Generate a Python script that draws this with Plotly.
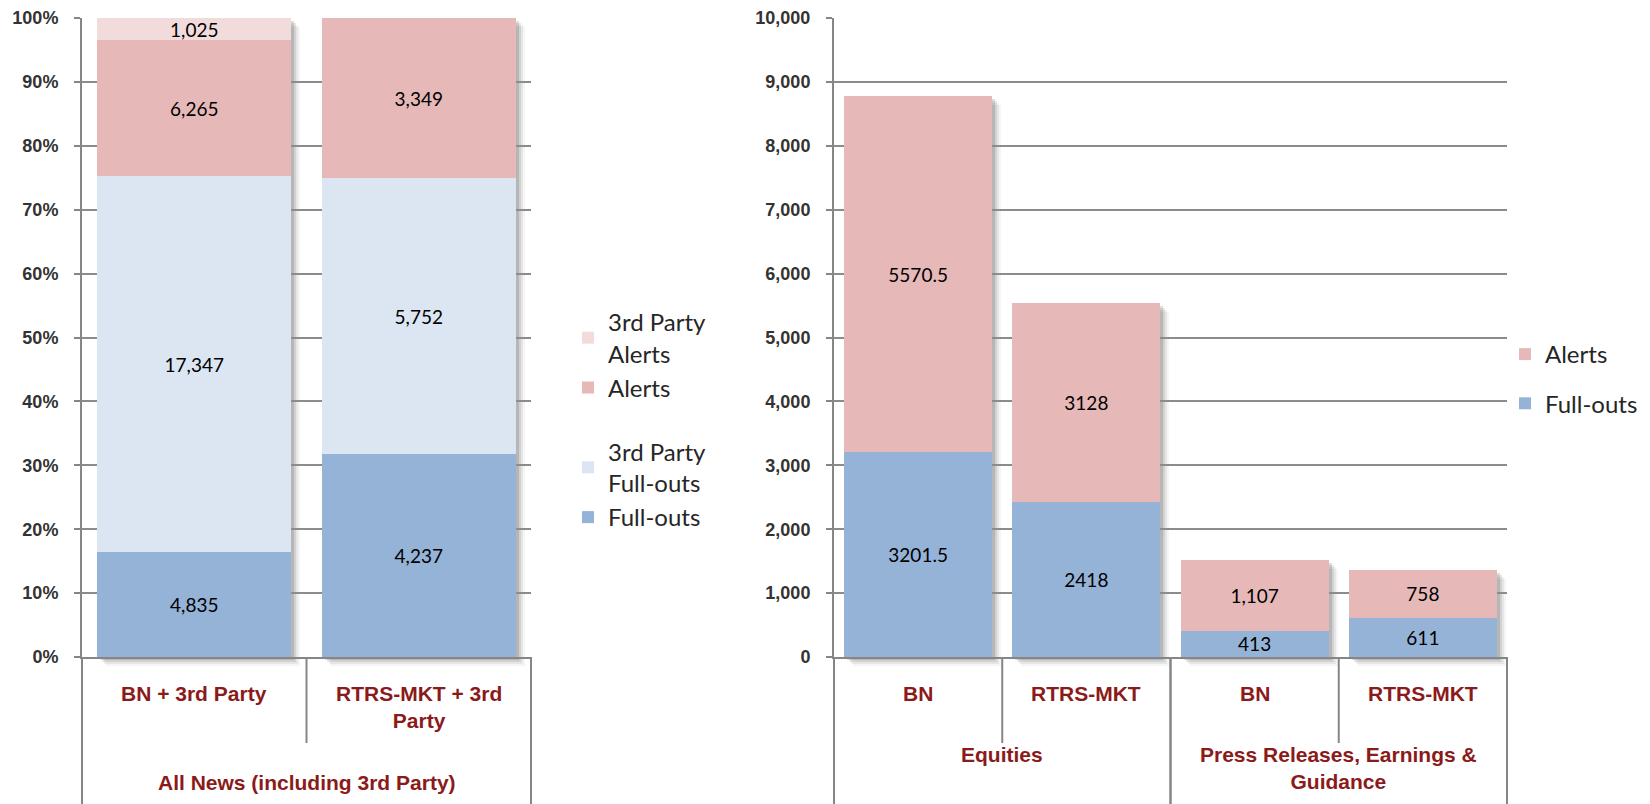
import plotly.graph_objects as go

# ---------------- data: left chart (100% stacked) ----------------
left_group = "All News (including 3rd Party)"
left_cats = ["BN + 3rd Party", "RTRS-MKT + 3rd<br>Party"]
left_full_outs = [4835, 4237]
left_3p_full_outs = [17347, 5752]
left_alerts = [6265, 3349]
left_3p_alerts = [1025, 0]
left_ticks = list(range(0, 101, 10))

# ---------------- data: right chart (stacked counts) ----------------
right_groups = ["Equities", "Equities",
                "Press Releases, Earnings &<br>Guidance", "Press Releases, Earnings &<br>Guidance"]
right_cats = ["BN", "RTRS-MKT", "BN", "RTRS-MKT"]
right_full_outs = [3201.5, 2418, 413, 611]
right_alerts = [5570.5, 3128, 1107, 758]
right_full_outs_labels = ["3201.5", "2418", "413", "611"]
right_alerts_labels = ["5570.5", "3128", "1,107", "758"]
right_ticks = list(range(0, 10001, 1000))

# ---------------- styles ----------------
C_FULL = "#95B3D7"
C_3P_FULL = "#DCE6F2"
C_ALERT = "#E6B9B8"
C_3P_ALERT = "#F2DCDB"
AXIS = "#868686"
GRID = "#8C8C8C"
CAT_COLOR = "#8B1A1A"
W, H = 1650, 804

def px_x(p):
    return p / W

def px_y(p):
    return 1 - p / H

# plot-area pixel boxes (left, right, top, bottom)
L_BOX = (82, 531, 18, 657)
R_BOX = (834, 1507, 18, 657)
LEFT_W, RIGHT_W = 0.865, 0.88
SHADOWS = [(3, 0.13), (5, 0.09), (7, 0.06), (9, 0.04)]  # (pixel offset, opacity)

label_font = dict(family="Lato", size=19, color="#000000")
tick_font = dict(family="Liberation Sans", size=18, color="#333333", weight="bold")
cat_font = dict(family="Liberation Sans", size=21, color=CAT_COLOR, weight="bold")
legend_font = dict(family="Lato", size=24, color="#262626")

fig = go.Figure()
layout_axes = {}
axis_num = [0]

def new_axes(box, dx, dy, xrange_, yrange_, xtype=None):
    axis_num[0] += 1
    k = axis_num[0]
    xa = "xaxis" if k == 1 else f"xaxis{k}"
    ya = "yaxis" if k == 1 else f"yaxis{k}"
    xid = "x" if k == 1 else f"x{k}"
    yid = "y" if k == 1 else f"y{k}"
    l, r, t, b = box
    layout_axes[xa] = dict(domain=[px_x(l + dx), px_x(r + dx)], anchor=yid, range=xrange_,
                           visible=False, automargin=False, fixedrange=True)
    if xtype:
        layout_axes[xa]["type"] = xtype
    layout_axes[ya] = dict(domain=[px_y(b + dy), px_y(t + dy)], anchor=xid, range=yrange_,
                           visible=False, automargin=False, fixedrange=True)
    return xid, yid, xa, ya

left_totals = [a + b + c + d for a, b, c, d in
               zip(left_full_outs, left_3p_full_outs, left_alerts, left_3p_alerts)]
right_totals = [a + b for a, b in zip(right_full_outs, right_alerts)]
right_x = list(range(len(right_cats)))
L_XR = [-0.5, len(left_cats) - 0.5]
R_XR = [-0.5, len(right_cats) - 0.5]

# ---------------- soft shadows (drawn first, underneath) ----------------
for off, alpha in SHADOWS:
    xid, yid, _, _ = new_axes(L_BOX, off, off, L_XR, [0, 100], "category")
    fig.add_trace(go.Bar(x=left_cats, y=[100 for _ in left_totals], width=LEFT_W,
                         marker=dict(color=f"rgba(0,0,0,{alpha})", line=dict(width=0)),
                         xaxis=xid, yaxis=yid, showlegend=False, hoverinfo="skip"))
for off, alpha in SHADOWS:
    xid, yid, _, _ = new_axes(R_BOX, off, off, R_XR, [0, 10000])
    fig.add_trace(go.Bar(x=right_x, y=right_totals, width=RIGHT_W,
                         marker=dict(color=f"rgba(0,0,0,{alpha})", line=dict(width=0)),
                         xaxis=xid, yaxis=yid, showlegend=False, hoverinfo="skip"))

# ---------------- main axes ----------------
LXID, LYID, LXA, LYA = new_axes(L_BOX, 0, 0, L_XR, [0, 100], "category")
RXID, RYID, RXA, RYA = new_axes(R_BOX, 0, 0, R_XR, [0, 10000])

axis_line = dict(visible=True, showline=True, linecolor=AXIS, linewidth=2, zeroline=False)
for xa in (LXA, RXA):
    layout_axes[xa].update(axis_line, showticklabels=False, showgrid=False, ticks="")
for ya, ticks, fmt in ((LYA, left_ticks, "pct"), (RYA, right_ticks, "num")):
    layout_axes[ya].update(axis_line, tickvals=ticks, ticks="outside", ticklen=6,
                           tickcolor=AXIS, tickwidth=1.5, showgrid=True, gridcolor=GRID,
                           gridwidth=1.5, tickfont=tick_font, ticklabelstandoff=12)
    if fmt == "pct":
        layout_axes[ya]["ticktext"] = [f"{t}%" for t in ticks]
    else:
        layout_axes[ya]["tickformat"] = ","

# ---------------- left traces ----------------
left_series = [
    ("Full-outs", left_full_outs, C_FULL, "l_fo", 4),
    ("3rd Party<br>Full-outs", left_3p_full_outs, C_3P_FULL, "l_fo", 3),
    ("Alerts", left_alerts, C_ALERT, "l_al", 2),
    ("3rd Party<br>Alerts", left_3p_alerts, C_3P_ALERT, "l_al", 1),
]
for name, vals, color, grp, rank in left_series:
    fig.add_trace(go.Bar(
        x=left_cats,
        y=[v / t * 100 for v, t in zip(vals, left_totals)],
        text=[f"{v:,}" if v else "" for v in vals],
        textposition="inside", insidetextanchor="middle", textangle=0,
        textfont=label_font,
        marker=dict(color=color, line=dict(width=0)),
        width=LEFT_W, name=name, legend="legend", legendgroup=grp, legendrank=rank,
        xaxis=LXID, yaxis=LYID, hoverinfo="skip",
    ))

# ---------------- right traces ----------------
right_series = [
    ("Full-outs", right_full_outs, right_full_outs_labels, C_FULL, "r_fo", 2),
    ("Alerts", right_alerts, right_alerts_labels, C_ALERT, "r_al", 1),
]
for name, vals, labels, color, grp, rank in right_series:
    fig.add_trace(go.Bar(
        x=right_x, y=vals, text=labels,
        textposition="inside", insidetextanchor="middle", textangle=0,
        textfont=label_font,
        marker=dict(color=color, line=dict(width=0)),
        width=RIGHT_W, name=name, legend="legend2", legendgroup=grp, legendrank=rank,
        xaxis=RXID, yaxis=RYID, hoverinfo="skip",
    ))

# ---------------- category labels & dividers ----------------
annotations = []
shapes = []
Y_BOT = px_y(L_BOX[3])

def vline(xref, xd, y0, y1):
    shapes.append(dict(type="line", xref=xref, yref="paper", x0=xd, x1=xd,
                       y0=y0, y1=y1, line=dict(color=AXIS, width=2)))

for c in left_cats:
    annotations.append(dict(x=c, xref=LXID, y=px_y(680), yref="paper", yanchor="top",
                            text=c, showarrow=False, font=cat_font, align="center"))
annotations.append(dict(x=0.5, xref=f"{LXID} domain", y=px_y(769), yref="paper", yanchor="top",
                        text=left_group, showarrow=False, font=cat_font))
n = len(left_cats)
vline(f"{LXID} domain", 0, 0, Y_BOT)
vline(f"{LXID} domain", 1, 0, Y_BOT)
for i in range(1, n):
    vline(f"{LXID} domain", i / n, px_y(743), Y_BOT)

for i, c in enumerate(right_cats):
    annotations.append(dict(x=i, xref=RXID, y=px_y(680), yref="paper", yanchor="top",
                            text=c, showarrow=False, font=cat_font))
groups = []
for i, g in enumerate(right_groups):
    if not groups or groups[-1][0] != g:
        groups.append([g, i, i])
    else:
        groups[-1][2] = i
m = len(right_cats)
for g, a, b in groups:
    annotations.append(dict(x=(a + b) / 2, xref=RXID, y=px_y(741), yref="paper", yanchor="top",
                            text=g, showarrow=False, font=cat_font, align="center"))
    vline(f"{RXID} domain", a / m, 0, Y_BOT)
    vline(f"{RXID} domain", (b + 1) / m, 0, Y_BOT)
    for k in range(a + 1, b + 1):
        vline(f"{RXID} domain", k / m, px_y(743), Y_BOT)

fig.update_layout(
    width=W, height=H, margin=dict(l=0, r=0, t=0, b=0, autoexpand=False),
    paper_bgcolor="white", plot_bgcolor="rgba(0,0,0,0)",
    barmode="stack",
    uniformtext=dict(minsize=19, mode="show"),
    legend=dict(x=px_x(568), xanchor="left", y=px_y(300), yanchor="top",
                traceorder="grouped", tracegroupgap=30,
                font=legend_font, bgcolor="rgba(0,0,0,0)"),
    legend2=dict(x=px_x(1505), xanchor="left", y=px_y(332), yanchor="top",
                 traceorder="grouped", tracegroupgap=15,
                 font=legend_font, bgcolor="rgba(0,0,0,0)"),
    annotations=annotations,
    shapes=shapes,
    showlegend=True,
    **layout_axes,
)

fig.write_html("out.html", config={"displayModeBar": False},
               post_script="document.body.style.margin='0';document.body.style.overflow='hidden';")
